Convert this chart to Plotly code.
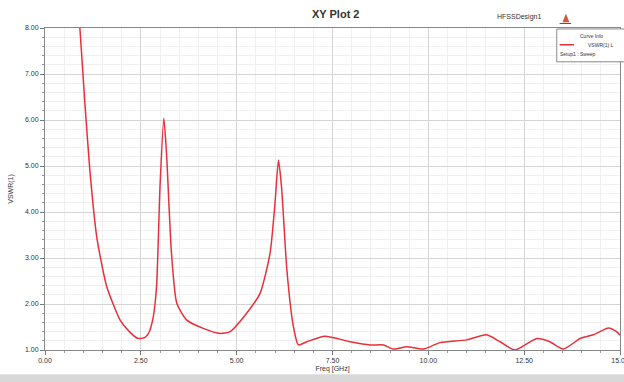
import plotly.graph_objects as go

freq_ghz = [0.91, 1.04, 1.17, 1.35, 1.61, 1.96, 2.20, 2.43, 2.60, 2.70, 2.82, 2.91, 3.00, 3.10, 3.17, 3.30, 3.44,
            3.70, 4.13, 4.57, 4.83, 5.26, 5.61, 5.87, 6.00, 6.09, 6.17, 6.31, 6.48, 6.61, 6.83,
            7.30, 7.96, 8.48, 8.83, 9.08, 9.43, 9.87, 10.31, 11.00, 11.52, 11.87, 12.26, 12.83,
            13.17, 13.52, 13.96, 14.31, 14.70, 14.91, 15.00]
vswr = [8.00, 6.37, 4.91, 3.46, 2.38, 1.65, 1.40, 1.25, 1.27, 1.36, 1.70, 2.38, 4.55, 6.04, 5.27, 3.10, 2.01,
        1.65, 1.47, 1.36, 1.40, 1.80, 2.23, 3.10, 4.19, 5.13, 4.55, 2.74, 1.51, 1.11, 1.18,
        1.30, 1.18, 1.11, 1.11, 1.02, 1.07, 1.02, 1.16, 1.22, 1.33, 1.18, 1.00, 1.25,
        1.18, 1.02, 1.25, 1.33, 1.48, 1.40, 1.32]

x_ticks = [0, 2.5, 5, 7.5, 10, 12.5, 15]
y_ticks = [1, 2, 3, 4, 5, 6, 7, 8]

FONT = "Liberation Sans, Arial"

fig = go.Figure()
fig.add_trace(go.Scatter(x=freq_ghz, y=vswr, mode="lines",
                         line=dict(color="#e8303a", width=1.5, shape="spline", smoothing=0.6),
                         name="VSWR(1)", showlegend=False))

axis_common = dict(showline=True, linecolor="#888888", linewidth=1, mirror=True,
                   ticks="outside", ticklen=4, tickcolor="#777777", gridcolor="#d4d4d4", gridwidth=1,
                   tickfont=dict(family=FONT, size=7, color="#333333"), zeroline=False,
                   ticklabeloverflow="allow", automargin=False)

fig.update_xaxes(range=[0, 15], tickvals=x_ticks, ticktext=[f"{v:.2f}" for v in x_ticks],
                 minor=dict(dtick=0.5, showgrid=True, gridcolor="#f0f0f0", ticks="outside", ticklen=2, tickcolor="#999999"),
                 title=dict(text="Freq [GHz]", font=dict(family=FONT, size=7, color="#333333"), standoff=2),
                 **axis_common)
fig.update_yaxes(range=[1, 8], tickvals=y_ticks, ticktext=[f"{v:.2f}" for v in y_ticks],
                 minor=dict(dtick=0.2, showgrid=True, gridcolor="#f0f0f0", ticks="outside", ticklen=2, tickcolor="#999999"),
                 title=dict(text="VSWR(1)", font=dict(family=FONT, size=7, color="#333333"), standoff=10),
                 **axis_common)

fig.update_layout(width=624, height=382, margin=dict(l=45, r=4, t=28, b=32, autoexpand=False),
                  paper_bgcolor="white", plot_bgcolor="white", showlegend=False)

fig.add_annotation(text="<b>XY Plot 2</b>", x=0.506, y=1, xref="paper", yref="paper", xanchor="center", yanchor="bottom",
                   yshift=6, showarrow=False, font=dict(family=FONT, size=11, color="#333333"))
fig.add_annotation(text="HFSSDesign1", x=0.825, y=1.0, xref="paper", yref="paper", xanchor="center", yanchor="bottom",
                   yshift=5, showarrow=False, font=dict(family=FONT, size=7, color="#333333"))
# small logo mark
fig.add_shape(type="path", xref="paper", yref="paper",
              path="M 0.9 1.018 L 0.906 1.045 L 0.912 1.018 Z", fillcolor="#d05a3a", line=dict(width=0))
fig.add_shape(type="line", xref="paper", yref="paper", x0=0.895, x1=0.915, y0=1.014, y1=1.014,
              line=dict(color="#555555", width=1))
# legend box
fig.add_shape(type="rect", xref="paper", yref="paper", x0=0.89, x1=1.01, y0=0.895, y1=0.997,
              line=dict(color="#888888", width=1), fillcolor="white")
fig.add_annotation(text="Curve Info", x=0.95, y=0.99, xref="paper", yref="paper", xanchor="center", yanchor="top",
                   showarrow=False, font=dict(family=FONT, size=5, color="#333333"))
fig.add_shape(type="line", xref="paper", yref="paper", x0=0.895, x1=0.92, y0=0.948, y1=0.948,
              line=dict(color="#e8303a", width=1.5))
fig.add_annotation(text="VSWR(1) L", x=0.94, y=0.948, xref="paper", yref="paper", xanchor="left", yanchor="middle",
                   showarrow=False, font=dict(family=FONT, size=5, color="#333333"))
fig.add_annotation(text="Setup1 : Sweep", x=0.893, y=0.918, xref="paper", yref="paper", xanchor="left", yanchor="middle",
                   showarrow=False, font=dict(family=FONT, size=5, color="#333333"))
# bottom status strip
fig.add_shape(type="rect", xref="paper", yref="paper", x0=-0.1, x1=1.02, y0=-0.075, y1=-0.11,
              line=dict(width=0), fillcolor="#d8d8d8", layer="below")

fig.write_html("out.html")
